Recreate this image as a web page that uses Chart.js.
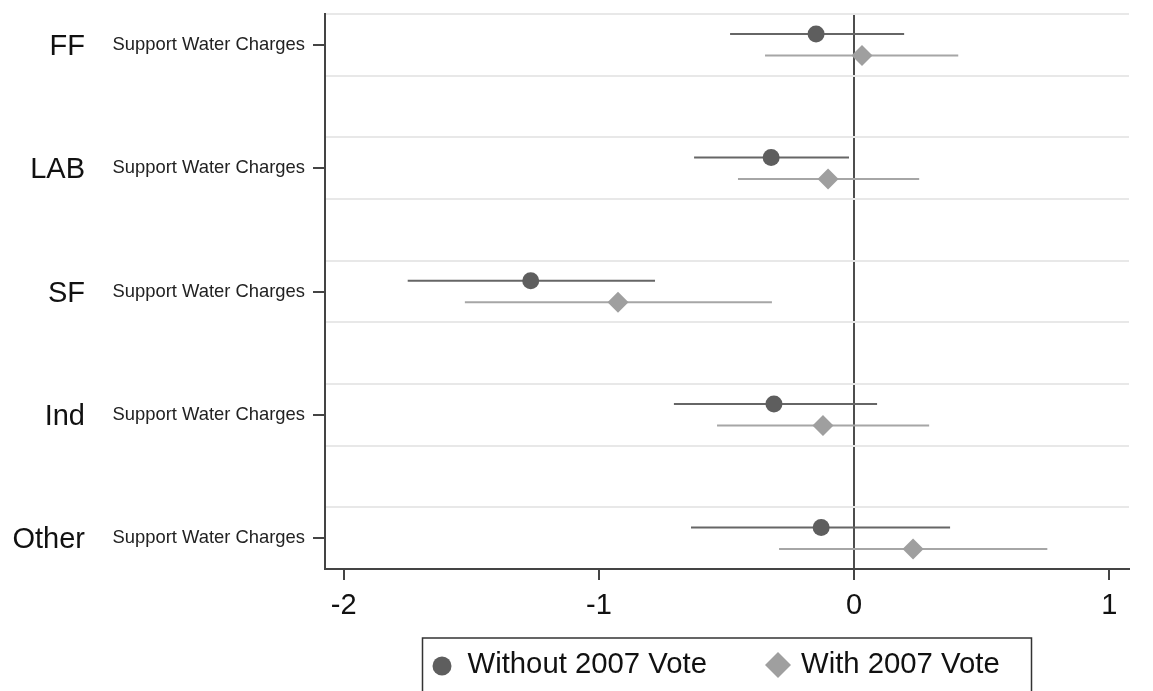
<!DOCTYPE html>
<html>
<head>
<meta charset="utf-8">
<title>Support Water Charges by party</title>
<script src="https://cdn.jsdelivr.net/npm/chart.js@4.4.1/dist/chart.umd.min.js"></script>
<style>
html, body { margin: 0; padding: 0; background: #fff; overflow: hidden; }
</style>
</head>
<body>
<canvas id="coefChart" width="1153" height="691"></canvas>
<script>
// groups down the y axis, one row label per group
var groups = ['FF', 'LAB', 'SF', 'Ind', 'Other'];
var rowLabel = 'Support Water Charges';
var seriesNames = ['Without 2007 Vote', 'With 2007 Vote'];

// point estimates and confidence interval ends
var without07 = [-0.149, -0.325, -1.267, -0.314, -0.129];
var without07Lo = [-0.486, -0.627, -1.749, -0.706, -0.639];
var without07Hi = [0.196, -0.020, -0.780, 0.090, 0.376];

var with07 = [0.031, -0.102, -0.925, -0.122, 0.231];
var with07Lo = [-0.349, -0.455, -1.525, -0.537, -0.294];
var with07Hi = [0.408, 0.255, -0.322, 0.294, 0.757];

var xTicks = [-2, -1, 0, 1];

var darkGrey = '#5e5e5e';
var lightGrey = '#9f9f9f';
var rowOffset = 0.087;

Chart.defaults.font.family = '"Liberation Sans", Arial, sans-serif';

function points(values, shift) {
    var out = [];
    for (var i = 0; i < values.length; i++) {
        out.push({ x: values[i], y: i + shift });
    }
    return out;
}

function isNear(v, target) {
    return Math.abs(v - target) < 1e-6;
}

// horizontal CI lines behind the markers
var errorBars = {
    id: 'errorBars',
    beforeDatasetsDraw: function(chart) {
        var ctx = chart.ctx;
        var xs = chart.scales.x;
        chart.data.datasets.forEach(function(ds, d) {
            var meta = chart.getDatasetMeta(d);
            ctx.save();
            ctx.strokeStyle = ds.ciColor;
            ctx.lineWidth = 2;
            meta.data.forEach(function(pt, i) {
                ctx.beginPath();
                ctx.moveTo(xs.getPixelForValue(ds.lo[i]), pt.y);
                ctx.lineTo(xs.getPixelForValue(ds.hi[i]), pt.y);
                ctx.stroke();
            });
            ctx.restore();
        });
    }
};

// big party names left of the row labels
var groupLabels = {
    id: 'groupLabels',
    afterDraw: function(chart) {
        var ctx = chart.ctx;
        var ys = chart.scales.y;
        ctx.save();
        ctx.font = '29px "Liberation Sans", Arial, sans-serif';
        ctx.fillStyle = '#111';
        ctx.textAlign = 'right';
        ctx.textBaseline = 'middle';
        groups.forEach(function(g, i) {
            ctx.fillText(g, ys.left - 28, ys.getPixelForValue(i) + 2);
        });
        ctx.restore();
    }
};

// boxed legend centred under the plot region
var boxLegend = {
    id: 'boxLegend',
    afterDraw: function(chart) {
        var ctx = chart.ctx;
        var area = chart.chartArea;
        var cx = (area.left + area.right) / 2;
        var cy = 665;
        ctx.save();
        ctx.strokeStyle = '#333';
        ctx.lineWidth = 1.5;
        ctx.strokeRect(cx - 304.5, 638, 609, 80);

        var sets = chart.data.datasets;
        ctx.fillStyle = sets[0].backgroundColor;
        Chart.helpers.drawPoint(ctx, { pointStyle: 'circle', radius: 9.5, borderWidth: 0 }, cx - 285, cy + 1);
        ctx.fillStyle = sets[1].backgroundColor;
        Chart.helpers.drawPoint(ctx, { pointStyle: 'rectRot', radius: 13, borderWidth: 0 }, cx + 51, cy);

        ctx.font = '29.3px "Liberation Sans", Arial, sans-serif';
        ctx.fillStyle = '#111';
        ctx.textAlign = 'left';
        ctx.textBaseline = 'middle';
        ctx.fillText(sets[0].label, cx - 259.5, cy);
        ctx.fillText(sets[1].label, cx + 74, cy);
        ctx.restore();
    }
};

var ctx = document.getElementById('coefChart').getContext('2d');
var coefChart = new Chart(ctx, {
    type: 'scatter',
    data: {
        datasets: [{
            label: seriesNames[0],
            data: points(without07, -rowOffset),
            lo: without07Lo,
            hi: without07Hi,
            ciColor: '#666666',
            backgroundColor: darkGrey,
            borderWidth: 0,
            pointStyle: 'circle',
            pointRadius: 8.5
        }, {
            label: seriesNames[1],
            data: points(with07, rowOffset),
            lo: with07Lo,
            hi: with07Hi,
            ciColor: '#a6a6a6',
            backgroundColor: lightGrey,
            borderWidth: 0,
            pointStyle: 'rectRot',
            pointRadius: 10.5
        }]
    },
    options: {
        responsive: false,
        animation: false,
        layout: {
            padding: { left: 113, right: 24, top: 14, bottom: 70 }
        },
        plugins: {
            legend: { display: false },
            tooltip: { enabled: false }
        },
        scales: {
            x: {
                type: 'linear',
                min: -2.073,
                max: 1.077,
                afterBuildTicks: function(scale) {
                    scale.ticks = xTicks.map(function(v) { return { value: v }; });
                },
                afterFit: function(scale) {
                    scale.height = 52;
                },
                border: { color: '#444', width: 2 },
                grid: {
                    color: function(c) { return c.tick && c.tick.value === 0 ? '#4d4d4d' : 'transparent'; },
                    lineWidth: 2,
                    tickColor: '#444',
                    tickWidth: 2,
                    tickLength: 11
                },
                ticks: {
                    font: { size: 29 },
                    color: '#111',
                    padding: 9
                }
            },
            y: {
                type: 'linear',
                reverse: true,
                min: -0.25,
                max: 4.25,
                afterFit: function(scale) {
                    scale.width = 212;
                    scale.paddingTop = 0;
                    scale.paddingBottom = 0;
                },
                border: { color: '#444', width: 2 },
                grid: {
                    color: function(c) {
                        if (!c.tick) return 'transparent';
                        var f = ((c.tick.value % 1) + 1) % 1;
                        return (isNear(f, 0.25) || isNear(f, 0.75)) ? '#e8e8e8' : 'transparent';
                    },
                    lineWidth: 2,
                    tickColor: function(c) {
                        return c.tick && Number.isInteger(c.tick.value) ? '#444' : 'transparent';
                    },
                    tickWidth: 2,
                    tickLength: 12
                },
                ticks: {
                    stepSize: 0.25,
                    autoSkip: false,
                    font: { size: 18.4 },
                    color: '#222',
                    padding: 8,
                    callback: function(v) {
                        return Number.isInteger(v) && v >= 0 ? rowLabel : '';
                    }
                }
            }
        }
    },
    plugins: [errorBars, groupLabels, boxLegend]
});
</script>
</body>
</html>
